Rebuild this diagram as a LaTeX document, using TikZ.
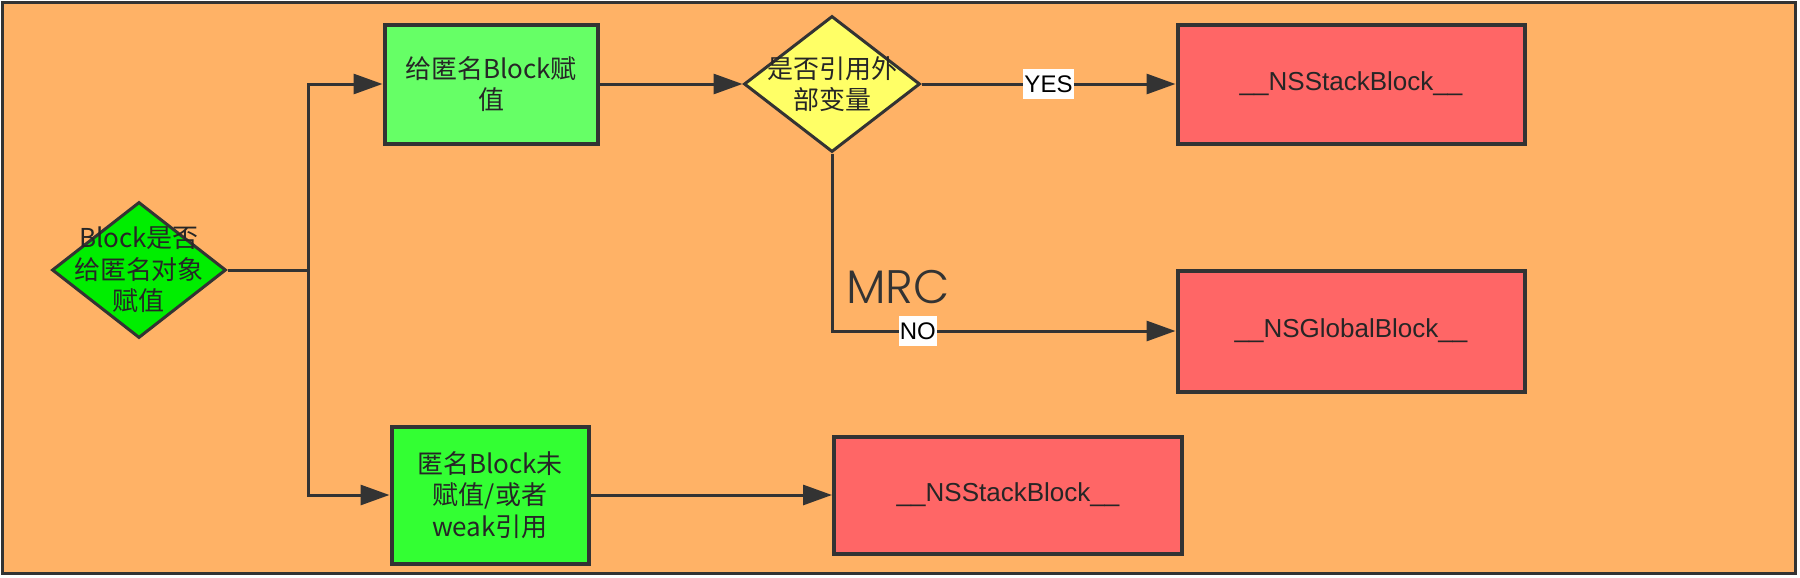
\documentclass[tikz,border=0pt]{standalone}
\usepackage{fontspec}
\setmainfont{Liberation Sans}
\newfontfamily\cjkfont{Noto Sans CJK SC}
\newfontfamily\mrcfont{Poppins Light}
\usetikzlibrary{arrows.meta,positioning,shapes.geometric}
\definecolor{bgorange}{HTML}{FFB266}
\definecolor{stackred}{HTML}{FF6666}
\definecolor{assigngreen}{HTML}{66FF66}
\definecolor{weakgreen}{HTML}{33FF33}
\definecolor{askgreen}{HTML}{00EE00}
\definecolor{askyellow}{HTML}{FFFF66}
\definecolor{ink}{HTML}{333333}
\tikzset{
  cjktext/.style={align=center,text=black!85,
                  font=\cjkfont\fontsize{13pt}{15.75pt}\selectfont},
  assign/.style={cjktext,draw=ink,line width=2pt,fill=assigngreen,inner sep=0pt},
  result/.style={draw=ink,line width=2pt,fill=stackred,inner sep=0pt,
                 text=black!85,font=\fontsize{13pt}{15.75pt}\selectfont},
  question/.style={diamond,draw=ink,line width=1.5pt,inner sep=0pt,
                   minimum width=87pt,minimum height=68pt},
  yesno/.style={fill=white,inner xsep=0.6pt,inner ysep=3.5pt,text=black,
                font=\fontsize{12pt}{14pt}\selectfont},
  conn/.style={-{Triangle[length=14.5pt,width=10pt]},line width=1.5pt,draw=ink}
}

\begin{document}
\begin{tikzpicture}[x=0.5pt,y=-0.5pt]
\useasboundingbox (0,0) rectangle (1800,578);
\draw[ink,line width=1.5pt,fill=bgorange] (2.5,2) rectangle (1795,573);
% decision nodes
\node[question,fill=askgreen,
      label={[cjktext]center:Block是否\\给匿名对象\\赋值}] (ask) at (139,270) {};
\node[question,fill=askyellow,minimum width=88pt,
      label={[cjktext]center:是否引用外\\部变量}] (query) at (832,84) {};
% process boxes
\node[assign,minimum width=106.5pt,minimum height=59.5pt] (assign) at (491,84) {给匿名Block赋\\值};
\node[assign,fill=weakgreen,minimum width=98.5pt,minimum height=68.5pt] (weak) at (490,495) {匿名Block未\\赋值/或者\\weak引用};
\node[result,minimum width=173.5pt,minimum height=59.5pt] (stacktop) at (1351,84) {\_\_NSStackBlock\_\_};
\node[result,minimum width=173.5pt,minimum height=60.5pt] (global) at (1351,331) {\_\_NSGlobalBlock\_\_};
\node[result,minimum width=174pt,minimum height=58.5pt] (stackbottom) at (1008,495) {\_\_NSStackBlock\_\_};
\node[anchor=base west,inner sep=0pt,text=ink,font=\mrcfont\fontsize{23.5pt}{28pt}\selectfont] (mrc) at (846,303) {MRC};
% connectors
\coordinate (split) at (308,270);
\draw[conn] (ask.east) -- (split) |- (assign.west);
\draw[conn] (ask.east) -- (split) |- (weak.west);
\draw[conn] (assign) -- (query);
\draw[conn] (query) -- node[yesno]{YES} (stacktop);
\draw[conn] (query.south) |- node[yesno,pos=0.625]{NO} (global.west);
\draw[conn] (weak) -- (stackbottom);
\end{tikzpicture}
\end{document}
